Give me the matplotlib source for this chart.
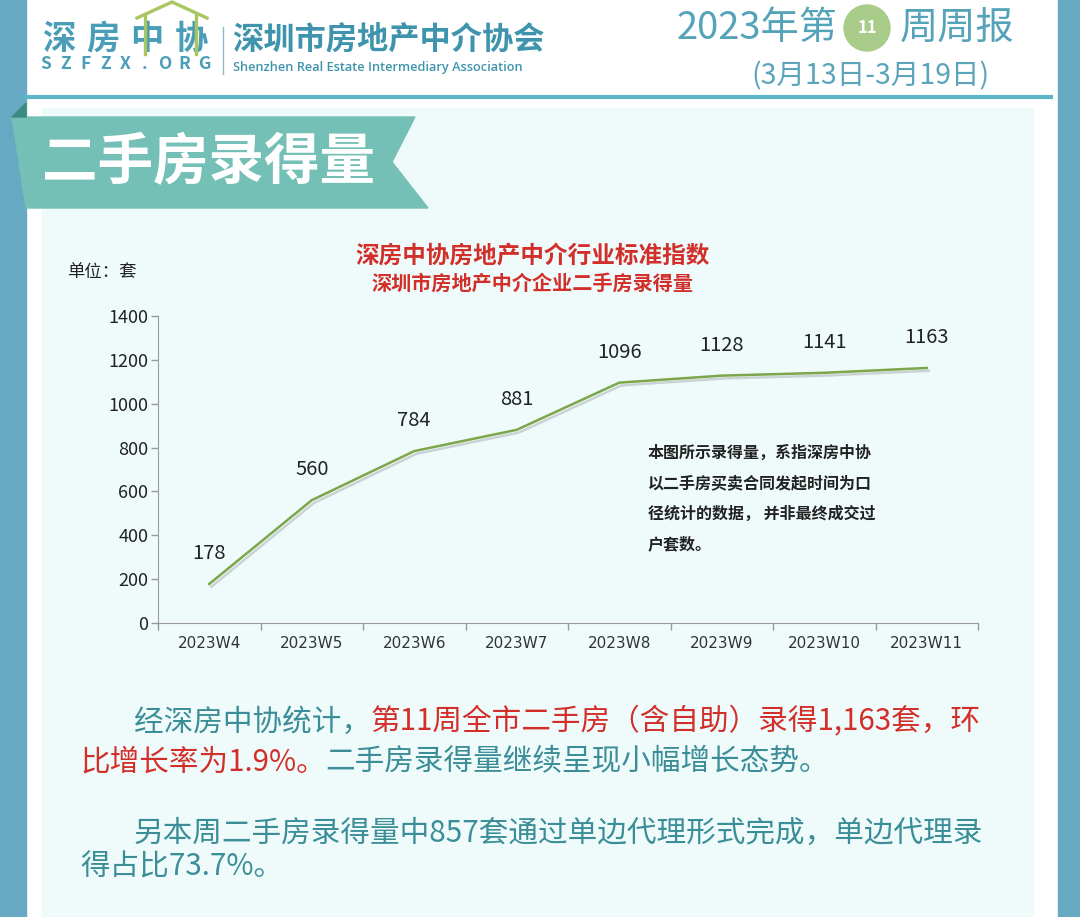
import matplotlib
matplotlib.use('Agg')
import matplotlib.pyplot as plt
import matplotlib.patches as mpatches
import matplotlib.patheffects as pe

plt.rcParams['font.family'] = ['Noto Sans CJK SC', 'DejaVu Sans']

# chart data
weeks = ['2023W4', '2023W5', '2023W6', '2023W7', '2023W8', '2023W9', '2023W10', '2023W11']
deals = [178, 560, 784, 881, 1096, 1128, 1141, 1163]
y_ticks = [0, 200, 400, 600, 800, 1000, 1200, 1400]

# texts
chart_title = '深房中协房地产中介行业标准指数'
chart_subtitle = '深圳市房地产中介企业二手房录得量'
unit_label = '单位：套'
note_lines = ['本图所示录得量，系指深房中协',
              '以二手房买卖合同发起时间为口',
              '径统计的数据， 并非最终成交过',
              '户套数。']
para1 = [[('经深房中协统计，', 'teal'), ('第11周全市二手房（含自助）录得1,163套，环', 'red')],
         [('比增长率为1.9%。', 'red'), ('二手房录得量继续呈现小幅增长态势。', 'teal')]]
para2 = [[('另本周二手房录得量中857套通过单边代理形式完成，单边代理录', 'teal')],
         [('得占比73.7%。', 'teal')]]

W, H = 1080, 917
TEAL = '#4a9db6'
TXT_TEAL = '#3b8d97'
RED = '#d22f2a'

fig = plt.figure(figsize=(W / 100, H / 100), dpi=100)
fig.patch.set_facecolor('white')

# background axes in pixel coordinates (y down)
bg = fig.add_axes([0, 0, 1, 1])
bg.set_xlim(0, W)
bg.set_ylim(H, 0)
bg.axis('off')

# side bars and panel
bg.add_patch(mpatches.Rectangle((0, 0), 26, H, color='#67a9c3', zorder=1))
bg.add_patch(mpatches.Rectangle((1058, 0), 22, H, color='#67a9c3', zorder=1))
bg.add_patch(mpatches.Rectangle((42, 108), 991, H - 108, color='#effbfb', zorder=1))
bg.plot([22, 1053], [97, 97], color='#5db5c9', lw=3, zorder=2, solid_capstyle='butt')

# banner
bg.add_patch(mpatches.Polygon([(12, 117), (415, 117), (392, 162), (428, 208), (26, 208)],
                              closed=True, color='#74c0b6', zorder=3))
bg.add_patch(mpatches.Polygon([(12, 117), (26, 103), (26, 117)], closed=True,
                              color='#3d8a80', zorder=3))
bg.text(42, 163, '二手房录得量', fontsize=40, fontweight='bold', color='white',
        ha='left', va='center', zorder=4)

# logo
bg.plot([137, 172, 207], [18, 2, 18], color='#a9c65f', lw=2.4, zorder=5,
        solid_joinstyle='miter')
bg.plot([145, 145], [14, 54], color='#a9c65f', lw=2.4, zorder=5)
bg.plot([196, 196], [14, 54], color='#a9c65f', lw=2.4, zorder=5)
for i, ch in enumerate('深房中协'):
    bg.text(59 + 44 * i, 39, ch, fontsize=24, fontweight='heavy', color=TEAL,
            ha='center', va='center', zorder=4)
for i, ch in enumerate('SZFZX.ORG'):
    bg.text(46 + 19.8 * i, 64, ch, fontsize=12.5, fontweight='bold', color=TEAL,
            ha='center', va='center', zorder=4)
bg.plot([223, 223], [27, 74], color='#8fb8c6', lw=1, zorder=4)
bg.text(232, 40, '深圳市房地产中介协会', fontsize=22.5, fontweight='bold', color='#3f94ad',
        ha='left', va='center', zorder=4)
bg.text(233, 68, 'Shenzhen Real Estate Intermediary Association', fontsize=9.2,
        family=['Open Sans', 'DejaVu Sans'], fontweight='semibold', color='#3f94ad',
        ha='left', va='center', zorder=4)

# weekly title
bg.text(838, 28, '2023年第', fontsize=27.5, fontweight='medium', color='#55a3b9',
        ha='right', va='center', zorder=4)
bg.add_patch(mpatches.Circle((867, 28), 23, color='#a9cc8a', zorder=4))
bg.text(867, 28, '11', fontsize=12, fontweight='bold', color='white', ha='center',
        va='center', zorder=5)
bg.text(900, 28, '周周报', fontsize=27.5, fontweight='medium', color='#55a3b9',
        ha='left', va='center', zorder=4)
bg.text(870, 76, '(3月13日-3月19日)', fontsize=20.5, color='#5ba4ba', ha='center',
        va='center', zorder=4)

# chart titles and notes
bg.text(532, 256, chart_title, fontsize=17, fontweight='bold', color=RED,
        ha='center', va='center', zorder=4)
bg.text(532, 283, chart_subtitle, fontsize=14.5, fontweight='bold', color=RED,
        ha='center', va='center', zorder=4)
bg.text(67, 272, unit_label, fontsize=12.5, color='#222222', ha='left', va='center', zorder=4)
for i, line in enumerate(note_lines):
    bg.text(648, 453 + 30.5 * i, line, fontsize=11.5, fontweight='bold', color='#222222',
            ha='left', va='center', zorder=4)

# bottom paragraphs with mixed colours
fig.canvas.draw()
renderer = fig.canvas.get_renderer()
colors = {'teal': TXT_TEAL, 'red': RED}


def draw_line(x, y, segments):
    for s, c in segments:
        t = bg.text(x, y, s, fontsize=21.3, color=colors[c], ha='left', va='center', zorder=4)
        x += t.get_window_extent(renderer).width


draw_line(134, 722, para1[0])
draw_line(80, 762, para1[1])
draw_line(134, 833, para2[0])
draw_line(80, 867, para2[1])

# the chart itself
x0, x1, ytop, ybot = 158, 978, 316, 623
ax = fig.add_axes([x0 / W, (H - ybot) / H, (x1 - x0) / W, (ybot - ytop) / H])
ax.patch.set_alpha(0)
xs = list(range(len(weeks)))
ax.plot(xs, deals, color='#7ba64a', lw=1.8, zorder=3,
        path_effects=[pe.SimpleLineShadow(offset=(1.5, -2), shadow_color='#777777', alpha=0.3),
                      pe.Normal()])
for x, v in zip(xs, deals):
    ax.annotate(str(v), (x, v), xytext=(0, 22), textcoords='offset points',
                ha='center', va='center', fontsize=14.5, color='#222222')
ax.set_xlim(-0.5, len(weeks) - 0.5)
ax.set_ylim(0, 1400)
ax.set_yticks(y_ticks)
ax.set_xticks(xs)
ax.set_xticklabels(weeks, family=['Liberation Sans Narrow', 'DejaVu Sans'], fontsize=11,
                   color='#333333')
ax.set_xticks([i - 0.5 for i in range(len(weeks) + 1)], minor=True)
ax.tick_params(axis='x', which='major', length=0, pad=9)
ax.tick_params(axis='x', which='minor', length=5, color='#999999', width=1)
ax.tick_params(axis='y', length=5, color='#999999', width=1, labelsize=13,
               labelcolor='#222222', pad=2)
for side in ['top', 'right']:
    ax.spines[side].set_visible(False)
for side in ['left', 'bottom']:
    ax.spines[side].set_color('#999999')

fig.savefig('out.png', dpi=100)
